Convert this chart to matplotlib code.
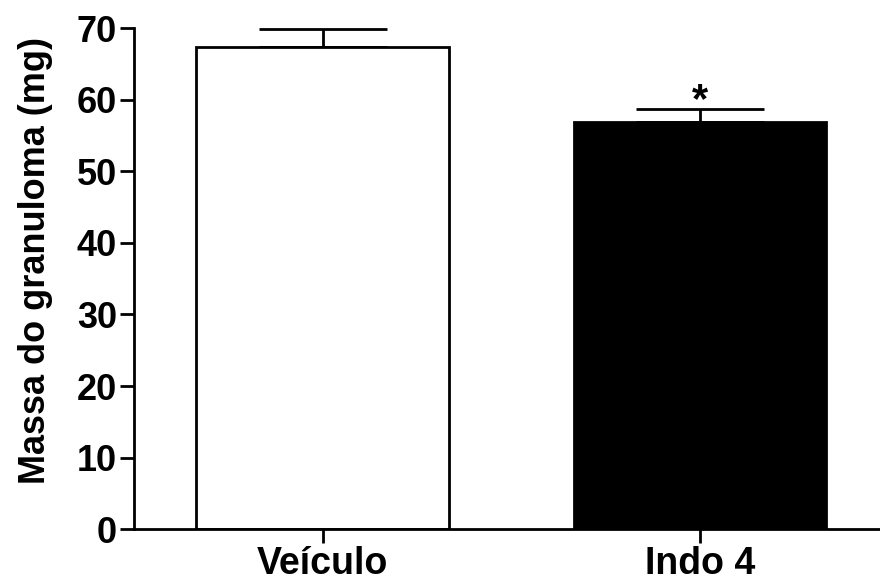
import matplotlib.pyplot as plt

# Massa do granuloma (mg), média e erro padrão
grupos = ['Veículo', 'Indo 4']
massa = [67.3, 56.9]
epm = [2.6, 1.8]
cores = ['white', 'black']
signif = ['', '*']

plt.rcParams['font.family'] = ['Liberation Sans', 'DejaVu Sans']
plt.rcParams['font.weight'] = 'bold'

fig = plt.figure(figsize=(8.8, 5.86), dpi=100)
ax = fig.add_axes([0.152, 0.097, 0.848, 0.855])

x = range(len(grupos))
ax.bar(x, massa, width=0.67, color=cores, edgecolor='black', linewidth=2, zorder=2)
ax.errorbar(x, massa, yerr=[[0] * len(epm), epm], fmt='none', ecolor='black',
            elinewidth=2, capsize=46, capthick=2, zorder=1)

# Marca de significância acima da barra de erro
for i in x:
    if signif[i]:
        ax.text(i, massa[i] + epm[i] - 0.4, signif[i], ha='center', va='baseline',
                fontsize=30, fontweight='bold')

ax.set_xlim(-0.501, 1.477)
ax.set_ylim(0, 70)
ax.set_yticks(range(0, 71, 10))
ax.set_xticks(list(x))
ax.set_xticklabels(grupos, fontsize=27)
ax.set_ylabel('Massa do granuloma (mg)', fontsize=26, fontweight='bold')
ax.yaxis.set_label_coords(-0.108, 0.537)

for s in ['top', 'right']:
    ax.spines[s].set_visible(False)
for s in ['left', 'bottom']:
    ax.spines[s].set_linewidth(2)
ax.tick_params(axis='both', direction='out', length=10, width=2, pad=2)
ax.tick_params(axis='y', labelsize=26)

fig.savefig('out.png', dpi=100)
